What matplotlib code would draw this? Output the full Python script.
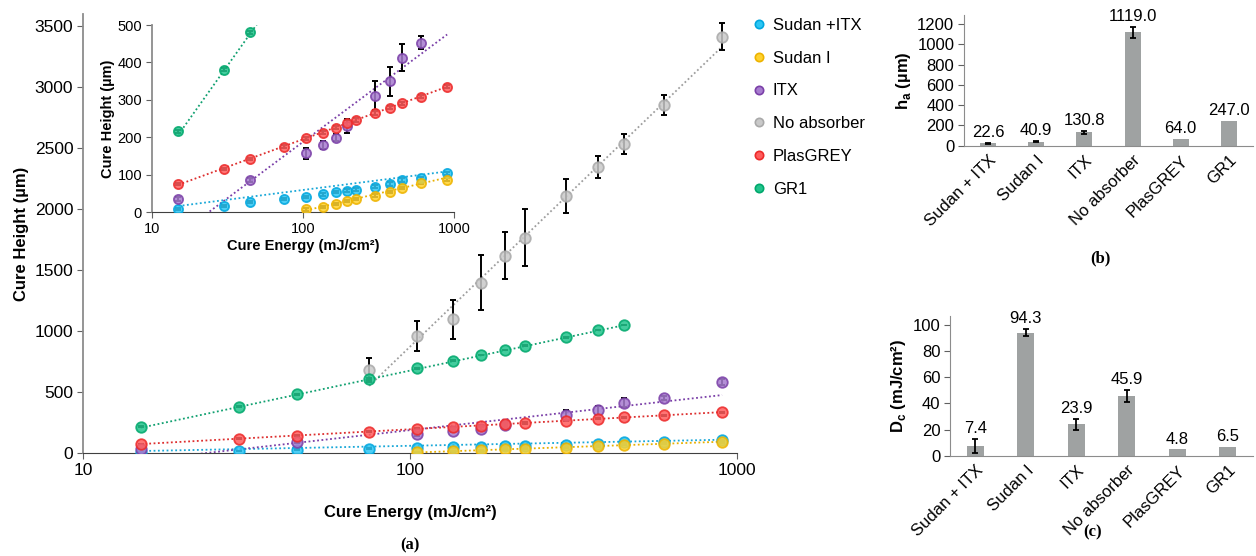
import numpy as np
import matplotlib
matplotlib.use('Agg')
import matplotlib.pyplot as plt
from matplotlib.lines import Line2D
from matplotlib.ticker import FixedLocator, FixedFormatter, NullLocator

plt.rcParams['font.family'] = ['Liberation Sans', 'DejaVu Sans']
plt.rcParams['mathtext.fontset'] = 'custom'
plt.rcParams['mathtext.rm'] = 'Liberation Sans'
plt.rcParams['mathtext.bf'] = 'Liberation Sans:bold'

# ---- data (a): cure height vs cure energy ----
names = ['Sudan +ITX', 'Sudan I', 'ITX', 'No absorber', 'PlasGREY', 'GR1']

e_sudan_itx = [15, 30, 45, 75, 105, 135, 165, 195, 225, 300, 375, 450, 600, 900]
h_sudan_itx = [8, 16, 26, 34, 40, 47, 53, 57, 59, 68, 74, 86, 90, 103]
s_sudan_itx = [3, 3, 3, 3, 3, 3, 3, 4, 4, 5, 5, 5, 4, 5]

e_sudan = [105, 135, 165, 195, 225, 300, 375, 450, 600, 900]
h_sudan = [7, 13, 21, 29, 34, 43, 54, 65, 77, 86]
s_sudan = [3, 3, 3, 3, 3, 4, 3, 3, 3, 4]

e_itx = [15, 45, 105, 135, 165, 195, 300, 375, 450, 600, 900]
h_itx = [34, 86, 157, 179, 199, 230, 311, 350, 413, 453, 580]
s_itx = [5, 5, 15, 10, 10, 20, 38, 39, 36, 17, 25]

e_noabs = [75, 105, 135, 165, 195, 225, 300, 375, 450, 600, 900]
h_noabs = [680, 959, 1096, 1396, 1615, 1765, 2107, 2347, 2533, 2853, 3412]
s_noabs = [96, 120, 161, 224, 193, 236, 142, 90, 80, 82, 109]

e_plas = [15, 30, 45, 75, 105, 135, 165, 195, 225, 300, 375, 450, 600, 900]
h_plas = [74, 116, 142, 175, 197, 212, 225, 237, 246, 264, 279, 291, 308, 335]
s_plas = [3, 3, 3, 3, 4, 4, 4, 8, 6, 5, 4, 4, 4, 4]

e_gr1 = [15, 30, 45, 75, 105, 135, 165, 195, 225, 300, 375, 450]
h_gr1 = [216, 380, 481, 607, 694, 757, 803, 844, 880, 948, 1008, 1049]
s_gr1 = [4, 4, 4, 6, 4, 4, 4, 4, 4, 4, 4, 4]

# ---- data (b), (c) ----
bar_labels = ['Sudan + ITX', 'Sudan I', 'ITX', 'No absorber', 'PlasGREY', 'GR1']
ha = [22.6, 40.9, 130.8, 1119.0, 64.0, 247.0]
ha_err = [5, 5, 12, 54, 0, 0]
dc = [7.4, 94.3, 23.9, 45.9, 4.8, 6.5]
dc_err = [5.6, 2.6, 4.5, 4.5, 0, 0]

series = [
    (e_sudan_itx, h_sudan_itx, s_sudan_itx),
    (e_sudan, h_sudan, s_sudan),
    (e_itx, h_itx, s_itx),
    (e_noabs, h_noabs, s_noabs),
    (e_plas, h_plas, s_plas),
    (e_gr1, h_gr1, s_gr1),
]
face = ['#2CC6F4', '#FFD22E', '#A77CCF', '#C9C9C9', '#FF5C5C', '#22C48C']
edge = ['#00A6DE', '#EDB300', '#7B40A8', '#A9A9A9', '#EC2A2A', '#00A86C']
trend = ['#1AA8D8', '#E8B000', '#7A3FA8', '#9E9E9E', '#DD2E2E', '#10A070']

fig = plt.figure(figsize=(12.56, 5.56), dpi=100)

def draw_series(ax, ms, cap):
    for i, (e, h, s) in enumerate(series):
        e = np.array(e, float)
        # log trendline h = ha * ln(E / Dc), over the data range
        xx = np.geomspace(e.min(), e.max(), 200)
        ax.plot(xx, ha[i] * np.log(xx / dc[i]), linestyle=(0, (1, 1.4)),
                color=trend[i], lw=1.3, zorder=2)
        ax.errorbar(e, h, yerr=s, fmt='none', ecolor='black', elinewidth=1.4,
                    capsize=cap, capthick=1.4, zorder=3)
        ax.plot(e, h, 'o', ms=ms, mfc=face[i], mec=edge[i], mew=1.3,
                alpha=0.85, zorder=4)

def style_log_axis(ax, fs):
    ax.set_xscale('log')
    ax.set_xlim(10, 1000)
    ax.xaxis.set_major_locator(FixedLocator([10, 100, 1000]))
    ax.xaxis.set_major_formatter(FixedFormatter(['10', '100', '1000']))
    ax.xaxis.set_minor_locator(NullLocator())
    for sp in ['top', 'right']:
        ax.spines[sp].set_visible(False)
    ax.spines['left'].set_color('#8c8c8c')
    ax.spines['left'].set_linewidth(1.3)
    ax.spines['bottom'].set_color('#404040')
    ax.tick_params(labelsize=fs, length=4, color='#606060', pad=3)

# (a) main
ax = fig.add_axes([0.0661, 0.1853, 0.5207, 0.7899])
draw_series(ax, 7.6, 2.5)
style_log_axis(ax, 12.5)
ax.set_ylim(0, 3600)
ax.set_yticks(np.arange(0, 3501, 500))
ax.set_xlabel('Cure Energy (mJ/cm²)', fontsize=12, fontweight='bold', labelpad=20)
ax.set_ylabel('Cure Height (µm)', fontsize=12, fontweight='bold', labelpad=4)

# inset
axi = fig.add_axes([0.1208, 0.6187, 0.2407, 0.3363])
axi.set_facecolor('white')
draw_series(axi, 6.6, 2)
style_log_axis(axi, 10.5)
axi.set_ylim(0, 500)
axi.set_yticks(np.arange(0, 501, 100))
axi.set_xlabel('Cure Energy (mJ/cm²)', fontsize=10.5, fontweight='bold', labelpad=2)
axi.set_ylabel('Cure Height (µm)', fontsize=10.5, fontweight='bold', labelpad=2)

# legend
handles = [Line2D([], [], ls='none', marker='o', ms=6, mfc=face[i], mec=edge[i],
                  mew=1.2) for i in range(6)]
fig.legend(handles, names, loc='upper left', bbox_to_anchor=(0.586, 0.995),
           frameon=False, fontsize=12, labelspacing=1.07, handletextpad=0.3,
           handlelength=1.0)

def bar_panel(rect, vals, errs, ymax, ystep, ylabel):
    axb = fig.add_axes(rect)
    x = np.arange(len(vals))
    axb.bar(x, vals, width=0.33, color='#9fa2a2', zorder=2)
    xe = [xi for xi, er in zip(x, errs) if er > 0]
    ve = [v for v, er in zip(vals, errs) if er > 0]
    ee = [er for er in errs if er > 0]
    axb.errorbar(xe, ve, yerr=ee, fmt='none', ecolor='black', elinewidth=1.3,
                 capsize=2.5, capthick=1.3, zorder=3)
    for xi, v, er in zip(x, vals, errs):
        axb.annotate('%.1f' % v, (xi, v + er), xytext=(0, 2), textcoords='offset points',
                     ha='center', va='bottom', fontsize=12)
    axb.set_xlim(-0.5, len(vals) - 0.5)
    axb.set_ylim(0, ymax)
    axb.set_yticks(np.arange(0, ymax, ystep))
    axb.set_xticks(x)
    axb.set_xticklabels(bar_labels, rotation=45, ha='right', rotation_mode='anchor',
                        fontsize=12)
    for sp in ['top', 'right']:
        axb.spines[sp].set_visible(False)
    axb.spines['left'].set_color('#8c8c8c')
    axb.spines['bottom'].set_color('#8c8c8c')
    axb.tick_params(axis='y', labelsize=12, length=4, color='#606060', pad=3)
    axb.tick_params(axis='x', length=0, pad=5)
    axb.set_ylabel(ylabel, fontsize=12, fontweight='bold', labelpad=3)
    return axb

bar_panel([0.7675, 0.7379, 0.2301, 0.2351], ha, ha_err, 1290, 200, r'h$_\mathbf{a}$ (µm)')
bar_panel([0.7564, 0.1804, 0.2412, 0.2513], dc, dc_err, 107, 20, r'D$_\mathbf{c}$ (mJ/cm²)')

# panel letters
fig.text(410 / 1256, 1 - 545 / 556, '(a)', fontsize=12, fontweight='bold',
         family='Liberation Serif', ha='center', va='center')
fig.text(1100 / 1256, 1 - 258 / 556, '(b)', fontsize=12, fontweight='bold',
         family='Liberation Serif', ha='center', va='center')
fig.text(1093 / 1256, 1 - 532 / 556, '(c)', fontsize=12, fontweight='bold',
         family='Liberation Serif', ha='center', va='center')

fig.savefig('out.png', dpi=100)
